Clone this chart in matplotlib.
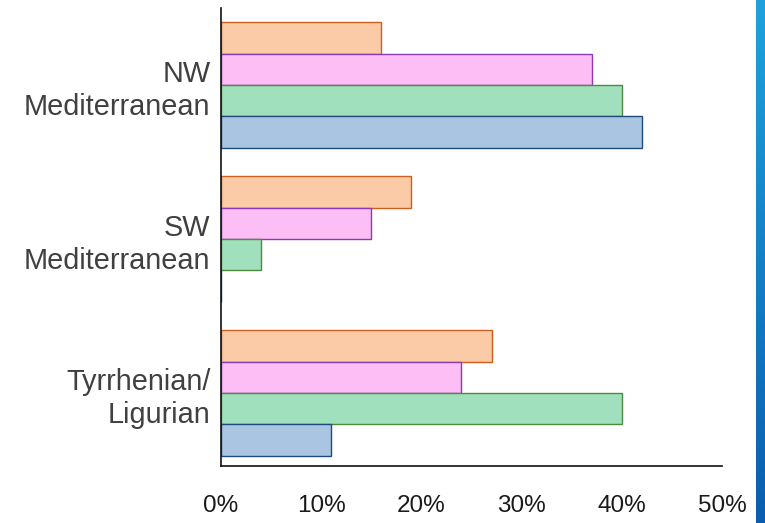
import matplotlib
matplotlib.use("Agg")
import matplotlib.pyplot as plt
import numpy as np
from matplotlib.ticker import FuncFormatter
from matplotlib.colors import LinearSegmentedColormap

plt.rcParams["font.family"] = ["Liberation Sans", "DejaVu Sans"]

regions = ["NW\nMediterranean", "SW\nMediterranean", "Tyrrhenian/\nLigurian"]
series_orange = [16, 19, 27]
series_pink = [37, 15, 24]
series_green = [40, 4, 40]
series_blue = [42, 0, 11]

fills = ["#FBCBA7", "#FDBDF5", "#A0E0BC", "#AAC5E2"]
edges = ["#CF5F1C", "#8A3AB5", "#4E8B3E", "#1F4B7C"]

fig = plt.figure(figsize=(7.65, 5.23), dpi=100)
fig.patch.set_facecolor("white")
ax = fig.add_axes([221 / 765, 1 - 466 / 523, (722 - 221) / 765, (466 - 8) / 523])

y = np.arange(len(regions))
h = 0.2045
all_series = [series_orange, series_pink, series_green, series_blue]
for k, vals in enumerate(all_series):
    ax.barh(y + (k - 1.5) * h, vals, height=h, color=fills[k],
            edgecolor=edges[k], linewidth=1.0)

ax.set_xlim(0, 50)
ax.set_ylim(2.474, -0.5)
ax.set_yticks(y)
ax.set_yticklabels(regions, fontsize=20.8, color="#404040", linespacing=1.22)
ax.set_xticks(np.arange(0, 51, 10))
ax.xaxis.set_major_formatter(FuncFormatter(lambda v, p: f"{v:.0f}%"))
ax.tick_params(axis="x", length=0, pad=21, labelsize=17.5, labelcolor="#1a1a1a")
ax.tick_params(axis="y", length=0, pad=7.5)
ax.spines["top"].set_visible(False)
ax.spines["right"].set_visible(False)
for s in ("left", "bottom"):
    ax.spines[s].set_linewidth(1.2)
    ax.spines[s].set_color("#111111")

# blue stripe at the right edge
sax = fig.add_axes([756 / 765, 0, 9 / 765, 1])
grad = np.linspace(0, 1, 256).reshape(-1, 1)
cmap = LinearSegmentedColormap.from_list("stripe", ["#1EA2DD", "#0A5DB2"])
sax.imshow(grad, aspect="auto", cmap=cmap, extent=[0, 1, 1, 0])
sax.axis("off")

fig.savefig("out.png", dpi=100)
